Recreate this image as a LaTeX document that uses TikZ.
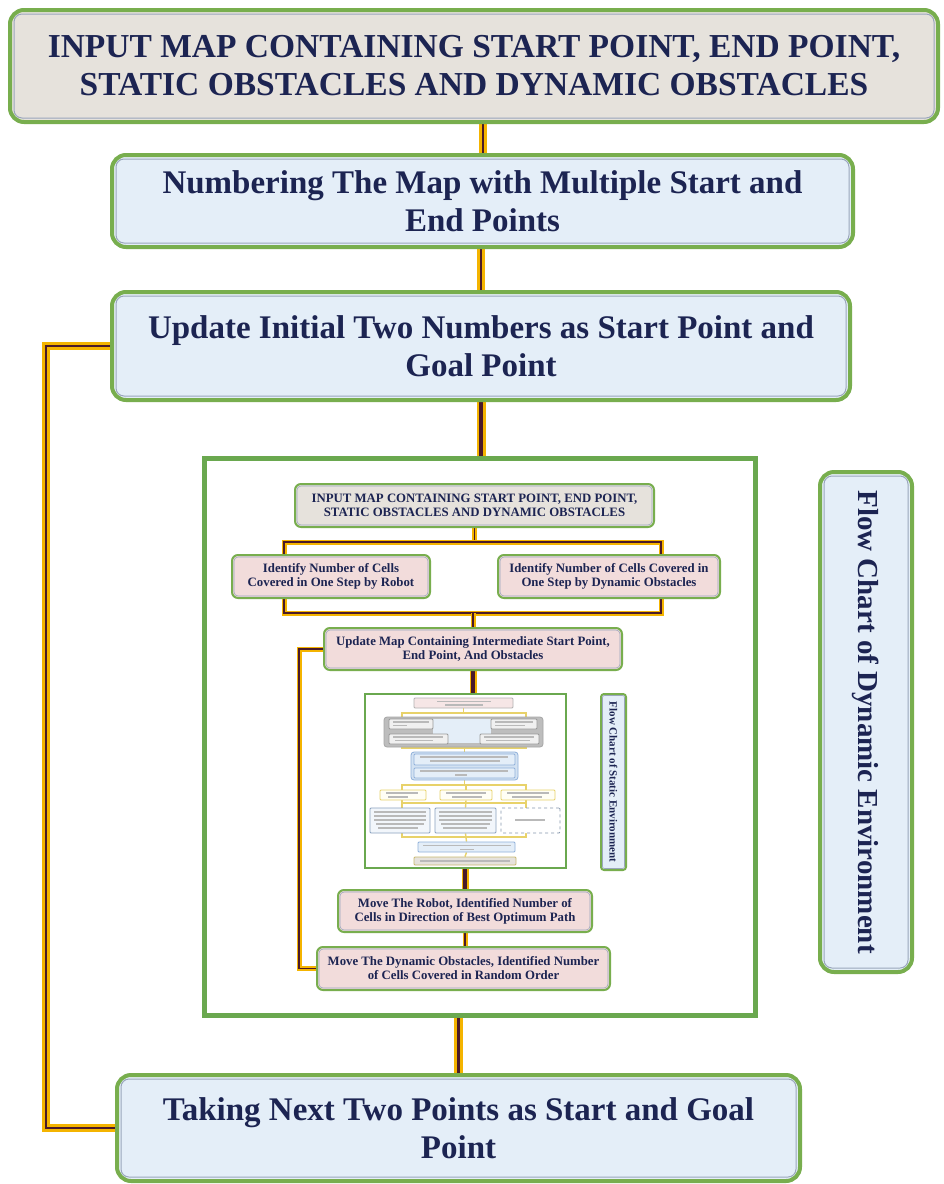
\documentclass[tikz,border=0pt]{standalone}
\usepackage{fontspec}
\setmainfont{Liberation Serif}
\usetikzlibrary{fit}
\definecolor{boxgreen}{HTML}{78AE4E}
\definecolor{framegreen}{HTML}{6AA84F}
\definecolor{paleblue}{HTML}{E4EEF8}
\definecolor{greybeige}{HTML}{E6E2DC}
\definecolor{pinkfill}{HTML}{F2DCDB}
\definecolor{navy}{HTML}{1C2452}
\definecolor{pipeyellow}{HTML}{F4B400}
\definecolor{pipedark}{HTML}{4A1A2A}
\definecolor{innerline}{HTML}{9AA6BC}
\definecolor{tinyblue}{HTML}{8FB0DA}
\definecolor{tinyyellow}{HTML}{E8D26A}
\definecolor{tinygrey}{HTML}{BDBDBD}
\pgfdeclarelayer{bg}
\pgfdeclarelayer{mid}
\pgfdeclarelayer{top}
\pgfsetlayers{bg,mid,top,main}
\tikzset{
  mainbox/.style={draw=boxgreen, line width=4pt, rounded corners=14pt, fill=paleblue,
    align=center, text=navy, font=\bfseries\fontsize{33}{38}\selectfont, inner sep=0pt},
  subbox/.style={draw=boxgreen, line width=2pt, rounded corners=6pt, fill=pinkfill,
    align=center, text=navy, font=\bfseries\fontsize{12.8}{14}\selectfont, inner sep=0pt},
  mainpipe/.style={draw=pipeyellow, line width=8pt, line join=miter,
    postaction={draw=pipedark, line width=2pt}},
  heavypipe/.style={draw=pipeyellow, line width=9pt,
    postaction={draw=pipedark, line width=3.5pt}},
  innerpipe/.style={draw=pipeyellow, line width=5pt, line join=miter,
    postaction={draw=pipedark, line width=1.2pt}},
  heavyinner/.style={draw=pipeyellow, line width=7pt,
    postaction={draw=pipedark, line width=3.5pt}},
  tinypipe/.style={draw=tinyyellow, line width=1.4pt},
  tinybox/.style={inner sep=0pt, line width=0.8pt, rounded corners=1pt},
  txtbar/.style={draw=gray!55, line width=1.1pt},
  innerln/.style={draw=innerline, line width=1pt, rounded corners=8pt},
  smallinnerln/.style={draw=innerline, line width=0.6pt, rounded corners=4pt},
  sidetext/.style={rotate=-90, text=navy, inner sep=0pt}
}
\newcommand\mainrim[1]{\draw[innerln] ([xshift=6pt,yshift=-6pt]#1.north west) rectangle ([xshift=-6pt,yshift=6pt]#1.south east);}
\newcommand\subrim[1]{\draw[smallinnerln] ([xshift=3pt,yshift=-3pt]#1.north west) rectangle ([xshift=-3pt,yshift=3pt]#1.south east);}
\begin{document}
\begin{tikzpicture}[x=1pt,y=-1pt]
\useasboundingbox (0,0) rectangle (943,1184);
\begin{pgfonlayer}{bg}
\fill[white] (0,0) rectangle (943,1184);
% frame holding the dynamic environment chart
\node[draw=framegreen, line width=5pt, fill=white, minimum width=551pt, minimum height=557pt, inner sep=0pt] (fr) at (479.5,736.5) {};
\end{pgfonlayer}

% ---------------- outer flow ----------------
\node[mainbox, fill=greybeige, minimum width=928pt, minimum height=112pt,
  font=\bfseries\fontsize{33.5}{38}\selectfont] (n1) at (474,66)
  {INPUT MAP CONTAINING START POINT, END POINT,\\STATIC OBSTACLES AND DYNAMIC OBSTACLES};
\node[mainbox, minimum width=741pt, minimum height=92pt] (n2) at (482.5,201)
  {Numbering The Map with Multiple Start and\\End Points};
\node[mainbox, minimum width=738pt, minimum height=108pt] (n3) at (481,346)
  {Update Initial Two Numbers as Start Point and\\Goal Point};
\node[mainbox, minimum width=683pt, minimum height=106pt] (n5) at (458.5,1128)
  {Taking Next Two Points as Start and Goal\\Point};
\node[mainbox, minimum width=92pt, minimum height=500pt] (dl) at (866,722) {};
\node[sidetext, font=\bfseries\fontsize{29}{34}\selectfont] (dlt) at (dl.center)
  {Flow Chart of Dynamic Environment};
\foreach \b in {n1,n2,n3,n5,dl} {\mainrim{\b}}

\begin{pgfonlayer}{bg}
\draw[mainpipe] (n2.north) -- (n2.north |- n1.south);
\draw[mainpipe] (n3.north) -- (n3.north |- n2.south);
\draw[heavypipe] (n3.south) -- (n3.south |- fr.north);
\draw[heavypipe] (n5.north) -- (n5.north |- fr.south);
\draw[mainpipe] (n3.west) -- ++(-64,0) |- (n5.west);
\end{pgfonlayer}

% ---------------- dynamic environment chart ----------------
\node[subbox, fill=greybeige, minimum width=359pt, minimum height=43pt] (a) at (474.5,505.5)
  {INPUT MAP CONTAINING START POINT, END POINT,\\STATIC OBSTACLES AND DYNAMIC OBSTACLES};
\node[subbox, minimum width=198pt, minimum height=43pt] (b1) at (331,576.5)
  {Identify Number of Cells\\Covered in One Step by Robot};
\node[subbox, minimum width=222pt, minimum height=43pt] (b2) at (609,576.5)
  {Identify Number of Cells Covered in\\One Step by Dynamic Obstacles};
\node[subbox, minimum width=298pt, minimum height=42pt] (c) at (473,649)
  {Update Map Containing Intermediate Start Point,\\End Point, And Obstacles};
\begin{pgfonlayer}{mid}
\node[draw=framegreen, line width=2pt, fill=white, minimum width=201pt, minimum height=174pt, inner sep=0pt] (sf) at (465.5,781) {};
\end{pgfonlayer}
\node[subbox, fill=paleblue, minimum width=25pt, minimum height=176pt, rounded corners=3pt] (sl) at (613.5,782) {};
\node[sidetext, font=\bfseries\fontsize{11}{12}\selectfont] (slt) at (sl.center) {Flow Chart of Static Environment};
\node[subbox, minimum width=254pt, minimum height=42pt] (d) at (465,911)
  {Move The Robot, Identified Number of\\Cells in Direction of Best Optimum Path};
\node[subbox, minimum width=293pt, minimum height=43pt] (e) at (463.5,968.5)
  {Move The Dynamic Obstacles, Identified Number\\of Cells Covered in Random Order};
\foreach \b in {a,b1,b2,c,d,e} {\subrim{\b}}
\draw[smallinnerln, rounded corners=2pt] ([xshift=2.5pt,yshift=-2.5pt]sl.north west) rectangle ([xshift=-2.5pt,yshift=2.5pt]sl.south east);

\begin{pgfonlayer}{mid}
\draw[innerpipe] (a.south) -- (a.south |- 0,542);
\draw[innerpipe] (b1.north -| 284,0) -- (284,542) -- (661,542) -- (b2.north -| 661,0);
\draw[innerpipe] (b1.south -| 284,0) -- (284,613) -- (661,613) -- (b2.south -| 661,0);
\draw[innerpipe] (c.north) -- (c.north |- 0,613);
\draw[heavyinner] (c.south) -- (c.south |- sf.north);
\draw[heavyinner] (d.north) -- (d.north |- sf.south);
\draw[innerpipe] (d.south) -- (d.south |- e.north);
\draw[innerpipe] (c.west) -- ++(-24,0) |- (e.west);
\end{pgfonlayer}

% ---------------- static environment chart (miniature) ----------------
\node[tinybox, draw=gray!60, fill=pinkfill!70, fit={(414,698)(513,708)}] (t0) {};
\node[tinybox, draw=gray!70, fill=tinygrey, rounded corners=3pt, fit={(384,717)(543,747)}] (tg) {};
\fill[paleblue] (433,719) rectangle (491,743);
\node[tinybox, draw=gray!80, fill=gray!12, fit={(389,719)(433,729)}] (tg1) {};
\node[tinybox, draw=gray!80, fill=gray!12, fit={(491,719)(537,729)}] (tg2) {};
\node[tinybox, draw=gray!80, fill=gray!12, fit={(389,734)(448,744)}] (tg3) {};
\node[tinybox, draw=gray!80, fill=gray!12, fit={(480,734)(539,744)}] (tg4) {};
\node[tinybox, draw=tinyblue, fill=paleblue!80!tinyblue, rounded corners=3pt, fit={(411,752)(518,780)}] (tb) {};
\node[tinybox, draw=tinyblue, fill=paleblue, fit={(414,754)(515,765)}] (tb1) {};
\node[tinybox, draw=tinyblue, fill=paleblue, fit={(414,768)(515,778)}] (tb2) {};
\node[tinybox, draw=tinyyellow, fill=yellow!4, fit={(380,790)(426,800)}] (ty1) {};
\node[tinybox, draw=tinyyellow, fill=yellow!4, fit={(440,790)(492,800)}] (ty2) {};
\node[tinybox, draw=tinyyellow, fill=yellow!4, fit={(501,790)(555,800)}] (ty3) {};
\node[tinybox, draw=tinyblue!70!gray, fill=paleblue!50, fit={(370,808)(430,833)}] (tc1) {};
\node[tinybox, draw=tinyblue!70!gray, fill=paleblue!50, fit={(435,808)(496,833)}] (tc2) {};
\node[tinybox, draw=tinyblue!50!gray, dashed, fill=white, fit={(501,808)(560,833)}] (tc3) {};
\node[tinybox, draw=tinyblue, fill=paleblue, fit={(418,842)(515,852)}] (tb3) {};
\node[tinybox, draw=tinyyellow!70!gray, fill=greybeige, fit={(414,857)(516,865)}] (te) {};

\begin{pgfonlayer}{top}
\draw[tinypipe] (t0.south) -- (t0.south |- 0,713);
\draw[tinypipe] (tg.north -| 402,0) -- (402,713) -- (526,713) -- (tg.north -| 526,0);
\draw[tinypipe] (tg1.south -| 411,0) -- (tg3.north -| 411,0);
\draw[tinypipe] (tg2.south -| 514,0) -- (tg4.north -| 514,0);
\draw[tinypipe] (tg.south -| 402,0) -- (402,748) -- (526,748) -- (tg.south -| 526,0);
\draw[tinypipe] (tb.north) -- (tb.north |- 0,748);
\draw[tinypipe] (tb.south) -- (tb.south |- 0,785);
\draw[tinypipe] (ty1.north -| 402,0) -- (402,785) -- (526,785) -- (ty3.north -| 526,0);
\draw[tinypipe] (ty2.north) -- (ty2.north |- 0,785);
\draw[tinypipe] (ty1.south -| 402,0) -- (402,803) -- (526,803) -- (ty3.south -| 526,0);
\draw[tinypipe] (ty2.south) -- (tc2.north);
\draw[tinypipe] (tc1.north -| 402,0) -- (402,803);
\draw[tinypipe] (tc3.north -| 526,0) -- (526,803);
\draw[tinypipe] (tc1.south -| 402,0) -- (402,837) -- (526,837) -- (tc3.south -| 526,0);
\draw[tinypipe] (tc2.south) -- (tb3.north);
\draw[tinypipe] (tb3.south) -- (te.north);
\end{pgfonlayer}

% faint lines standing for the unreadable lettering of the miniature
\foreach \x/\y/\w in {437/701.5/54, 445/705/38,
  393/722/36, 393/725.5/14, 495/722/38, 495/725.5/30,
  393/737/50, 395/740.5/38, 484/737/50, 486/740.5/44,
  420/757/88, 430/761/70, 420/771/88, 455/775/12,
  386/793/32, 388/797/20, 446/793/40, 452/797/30, 507/793/42, 512/797/30,
  374/812/52, 374/816/52, 374/820/52, 376/824/48, 378/828/40,
  439/812/53, 439/816/53, 439/820/53, 441/824/49, 443/828/44,
  515/820/30,
  423/845.5/88, 460/849.5/14, 420/861/90}
  {\draw[txtbar] (\x,\y) -- ++(\w,0);}
\end{tikzpicture}
\end{document}
